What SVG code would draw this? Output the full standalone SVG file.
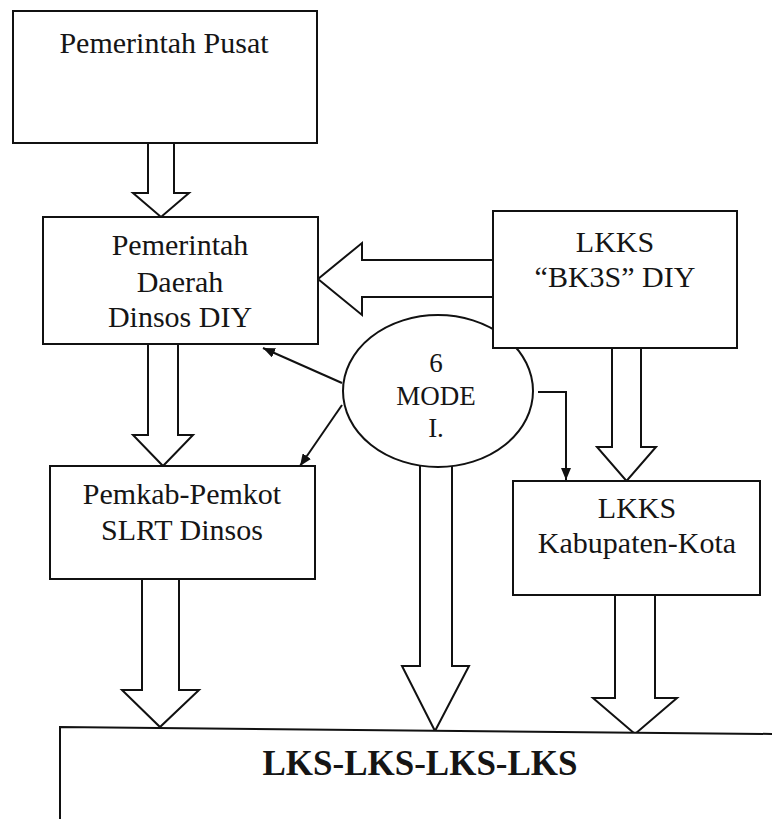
<svg xmlns="http://www.w3.org/2000/svg" width="772" height="819" viewBox="0 0 772 819">
  <style>
    .box { fill: #ffffff; stroke: #111111; stroke-width: 2; }
    .blk { fill: #ffffff; stroke: #111111; stroke-width: 2; stroke-linejoin: miter; }
    .thin { fill: none; stroke: #111111; stroke-width: 2; }
    text { font-family: "Liberation Serif", "DejaVu Serif", "Times New Roman", serif; fill: #151515; text-anchor: middle; }
    .t30 { font-size: 30px; }
    .t27 { font-size: 27px; }
    .big { font-size: 35px; font-weight: bold; }
  </style>
  <defs>
    <marker id="ah" viewBox="0 0 12 10" refX="12" refY="5" markerWidth="12" markerHeight="10" markerUnits="userSpaceOnUse" orient="auto">
      <path d="M0,0 L12,5 L0,10 Z" fill="#111111"/>
    </marker>
  </defs>
  <rect x="0" y="0" width="772" height="819" fill="#ffffff"/>

  <g id="connectors">
    <path class="blk" d="M148,143 L148,193 L133,193 L161,217 L189,193 L174,193 L174,143"/>
    <path class="blk" d="M493,260 L362,260 L362,243 L318,279 L362,315 L362,297 L493,297"/>
    <path class="blk" d="M148,344 L148,435 L133,435 L163,466 L193,435 L178,435 L178,344"/>
    <path class="blk" d="M142,579 L142,690 L122,690 L160,727 L199,690 L179,690 L179,579"/>
    <path class="blk" d="M420,464 L420,666 L402,666 L435,731 L469,666 L452,666 L452,464"/>
    <path class="blk" d="M612,348 L612,447 L597,447 L626.5,481 L656,447 L641,447 L641,348"/>
    <path class="blk" d="M615,595 L615,698 L593,698 L635,734 L677,698 L655,698 L655,595"/>
    <line class="thin" x1="342" y1="383" x2="263" y2="348" marker-end="url(#ah)"/>
    <line class="thin" x1="342" y1="405" x2="300" y2="466" marker-end="url(#ah)"/>
    <polyline class="thin" points="538,392 566,392 566,480" marker-end="url(#ah)"/>
  </g>

  <g id="node-mode">
    <ellipse class="box" cx="438" cy="391" rx="95" ry="76"/>
    <text class="t27" x="436" y="372">6</text>
    <text class="t27" x="436" y="405">MODE</text>
    <text class="t27" x="436" y="437">I.</text>
  </g>

  <g id="node-pusat">
    <rect class="box" x="13" y="11" width="304" height="132"/>
    <text class="t30" x="164" y="53">Pemerintah Pusat</text>
  </g>

  <g id="node-daerah">
    <rect class="box" x="43" y="217" width="275" height="127"/>
    <text class="t30" x="180" y="255">Pemerintah</text>
    <text class="t30" x="180" y="292">Daerah</text>
    <text class="t30" x="180" y="327">Dinsos DIY</text>
  </g>

  <g id="node-bk3s">
    <rect class="box" x="493" y="211" width="244" height="137"/>
    <text class="t30" x="615" y="252">LKKS</text>
    <text class="t30" x="615" y="287">“BK3S” DIY</text>
  </g>

  <g id="node-pemkab">
    <rect class="box" x="50" y="466" width="265" height="113"/>
    <text class="t30" x="182" y="504">Pemkab-Pemkot</text>
    <text class="t30" x="182" y="540">SLRT Dinsos</text>
  </g>

  <g id="node-kab">
    <rect class="box" x="513" y="481" width="247" height="114"/>
    <text class="t30" x="637" y="518">LKKS</text>
    <text class="t30" x="637" y="553">Kabupaten-Kota</text>
  </g>

  <g id="node-lks">
    <path class="box" d="M60,822 L60,727 L775,734 L775,822 Z"/>
    <text class="big" x="420" y="775">LKS-LKS-LKS-LKS</text>
  </g>
</svg>
